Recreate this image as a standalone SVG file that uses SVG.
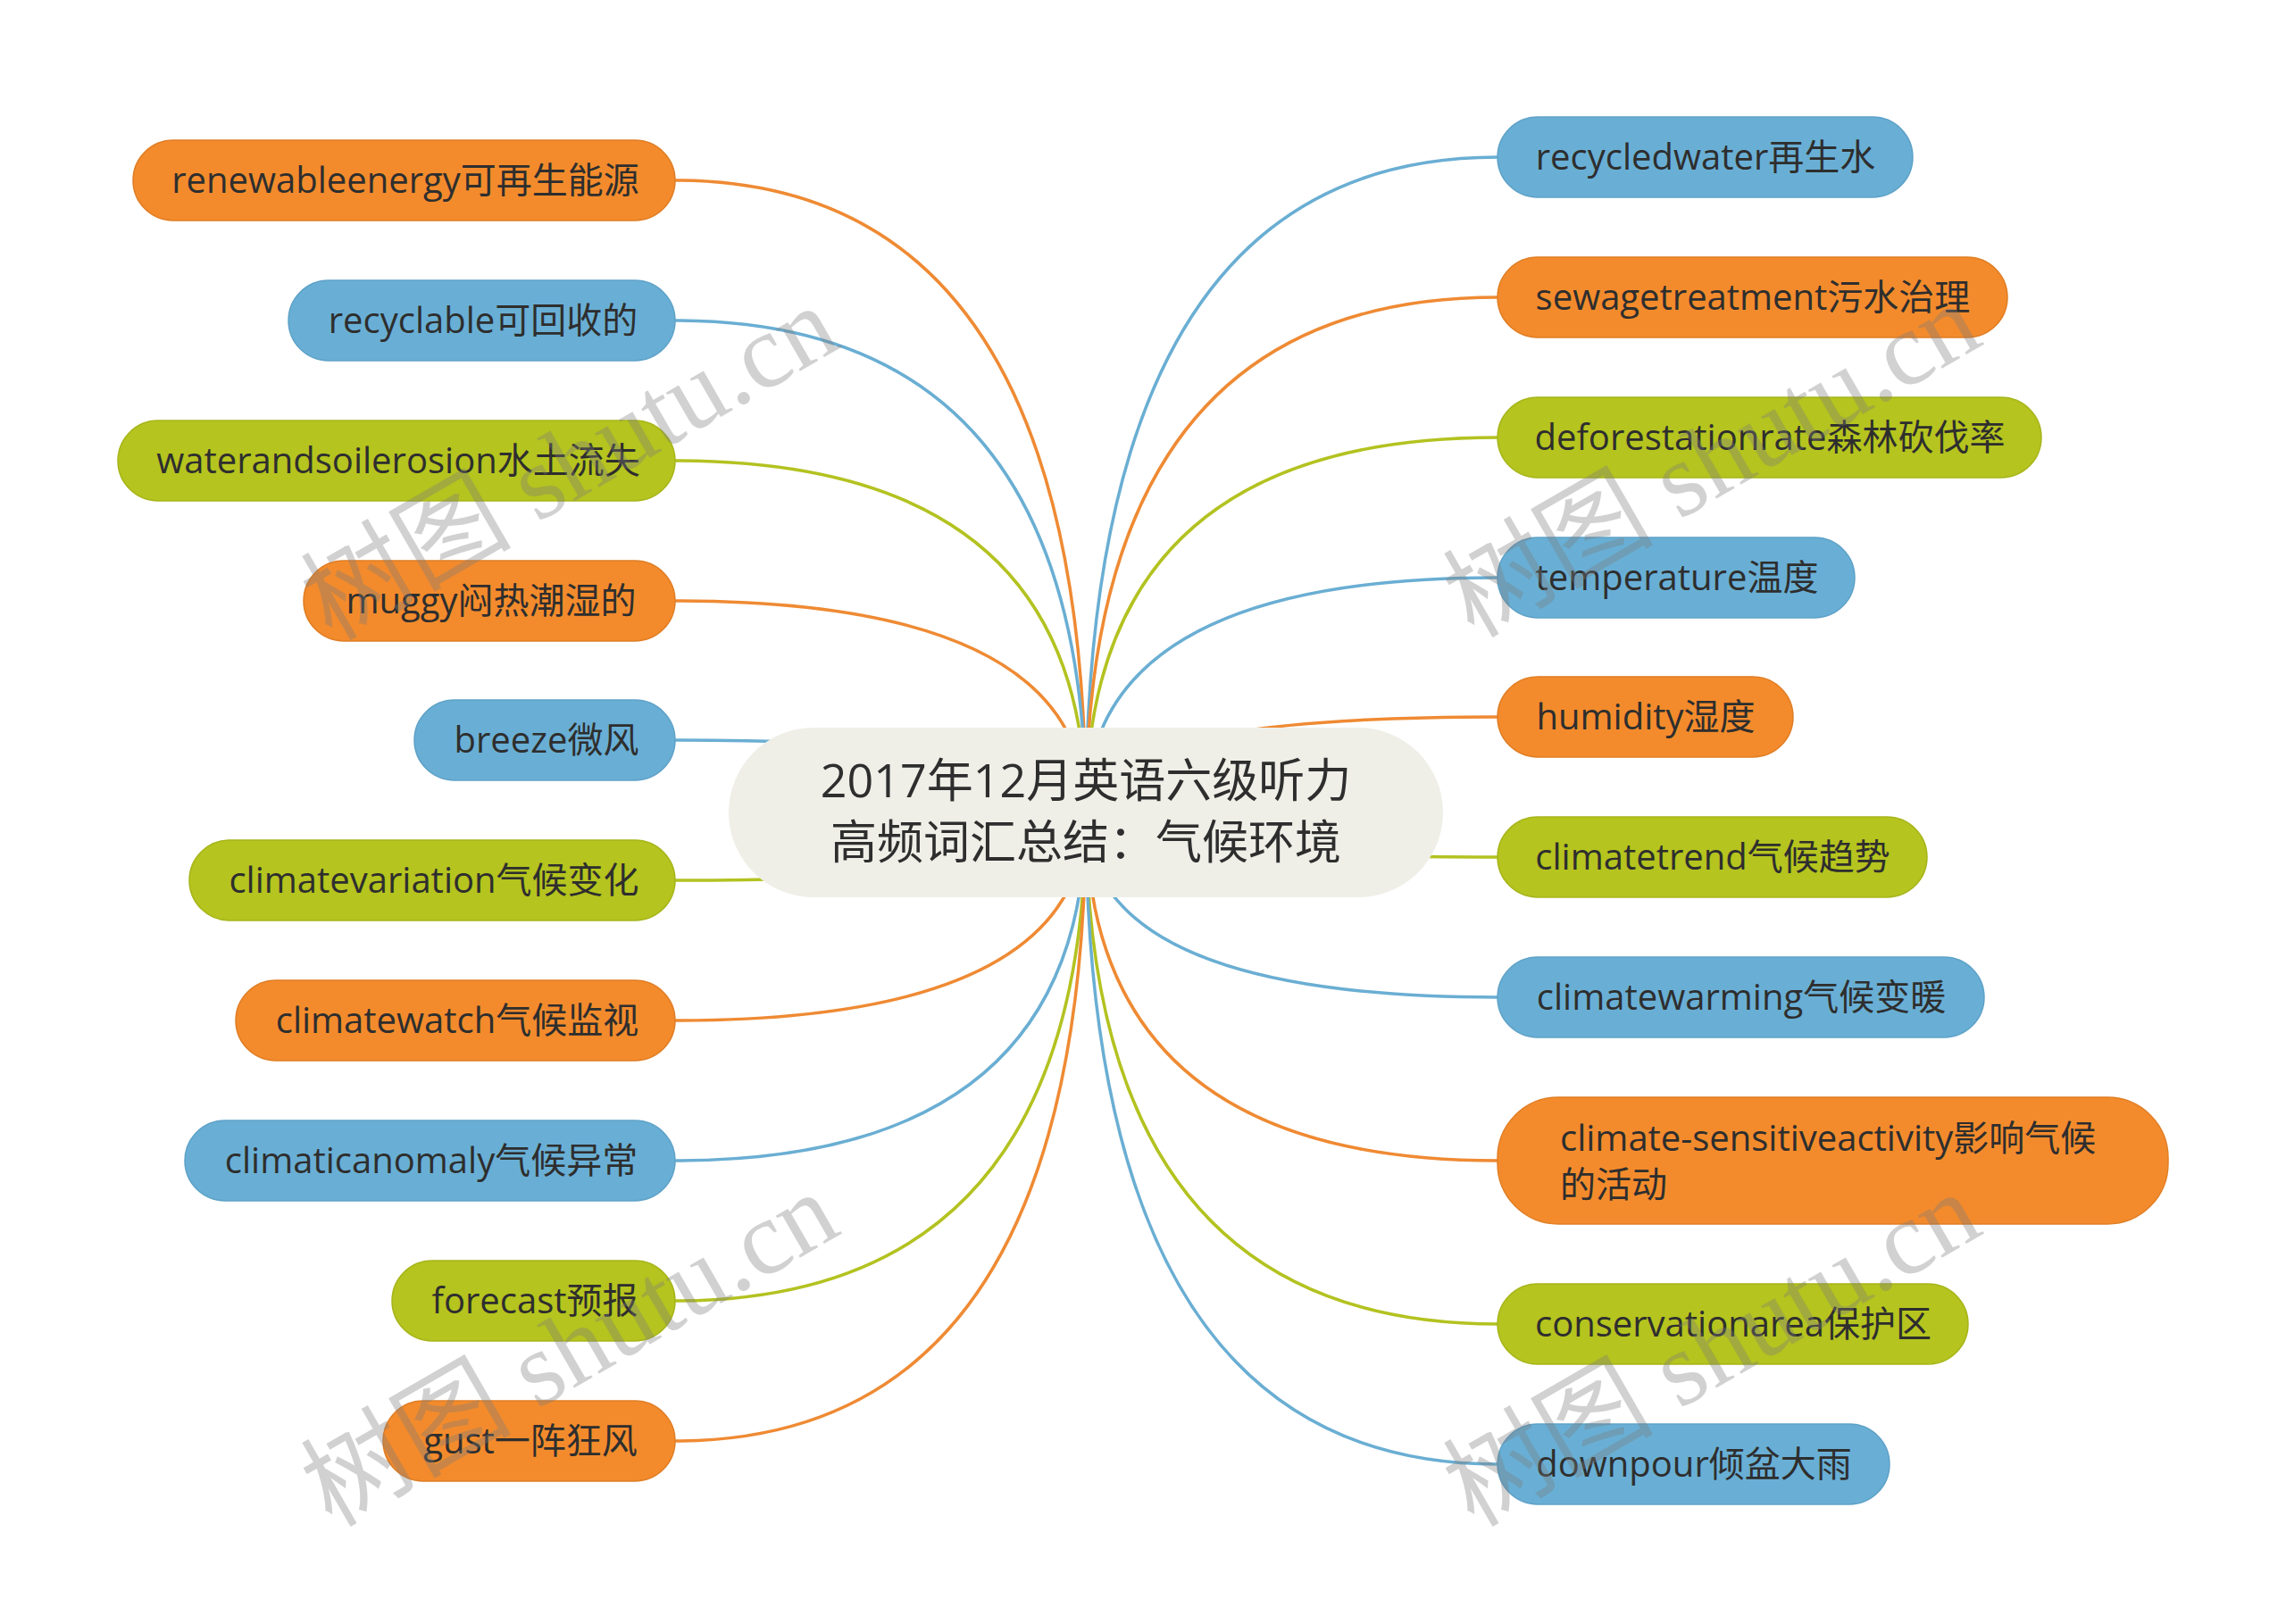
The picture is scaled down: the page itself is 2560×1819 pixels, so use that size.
<svg xmlns="http://www.w3.org/2000/svg" width="2560" height="1819" viewBox="0 0 2560 1819">
<style>
.bg{fill:#ffffff}
.edge{fill:none;stroke-width:3.5;stroke-linecap:round}
.eo{stroke:#ef8a33}
.eb{stroke:#6aaed3}
.eg{stroke:#b3c220}
.no{fill:#f38b2c;stroke:#e07e25;stroke-width:1.5}
.nb{fill:#69afd5;stroke:#5fa2c8;stroke-width:1.5}
.ng{fill:#b5c41e;stroke:#a7b51a;stroke-width:1.5}
.root{fill:#efefe8}
.t{font-family:"Open Sans","Noto Sans CJK SC",sans-serif;font-size:40px;fill:#2e2e2e;text-anchor:middle}
.tl{text-anchor:start}
.rt{font-family:"Open Sans","Noto Sans CJK SC",sans-serif;font-size:52px;fill:#2e2e2e;text-anchor:middle}
.wm{font-family:"Liberation Serif","Noto Sans CJK SC",serif;font-size:118px;fill:#7a7a7a;fill-opacity:0.35;text-anchor:middle}
</style>
<rect class="bg" x="0" y="0" width="2560" height="1819"/>
<g id="connectors">
<path class="edge eo" d="M756 202 Q1216 202 1216 910"/>
<path class="edge eb" d="M756 359 Q1216 359 1216 910"/>
<path class="edge eg" d="M756 516 Q1216 516 1216 910"/>
<path class="edge eo" d="M756 673 Q1216 673 1216 910"/>
<path class="edge eb" d="M756 829 Q1216 829 1216 910"/>
<path class="edge eg" d="M756 986 Q1216 986 1216 910"/>
<path class="edge eo" d="M756 1143 Q1216 1143 1216 910"/>
<path class="edge eb" d="M756 1300 Q1216 1300 1216 910"/>
<path class="edge eg" d="M756 1457 Q1216 1457 1216 910"/>
<path class="edge eo" d="M756 1614 Q1216 1614 1216 910"/>
<path class="edge eb" d="M1677 176 Q1216 176 1216 910"/>
<path class="edge eo" d="M1677 333 Q1216 333 1216 910"/>
<path class="edge eg" d="M1677 490 Q1216 490 1216 910"/>
<path class="edge eb" d="M1677 647 Q1216 647 1216 910"/>
<path class="edge eo" d="M1677 803 Q1216 803 1216 910"/>
<path class="edge eg" d="M1677 960 Q1216 960 1216 910"/>
<path class="edge eb" d="M1677 1117 Q1216 1117 1216 910"/>
<path class="edge eo" d="M1677 1300 Q1216 1300 1216 910"/>
<path class="edge eg" d="M1677 1483 Q1216 1483 1216 910"/>
<path class="edge eb" d="M1677 1640 Q1216 1640 1216 910"/>
</g>
<g id="root">
<rect class="root" x="816" y="815" width="800" height="190" rx="95" ry="95"/>
<text class="rt" x="1216" y="893">2017年12月英语六级听力</text>
<text class="rt" x="1216" y="962">高频词汇总结：气候环境</text>
</g>
<g id="n-l1"><rect class="no" x="149" y="157" width="607" height="90" rx="45"/><text class="t" x="454" y="216">renewableenergy可再生能源</text></g>
<g id="n-l2"><rect class="nb" x="323" y="314" width="433" height="90" rx="45"/><text class="t" x="541" y="373">recyclable可回收的</text></g>
<g id="n-l3"><rect class="ng" x="132" y="471" width="624" height="90" rx="45"/><text class="t" x="446" y="530">waterandsoilerosion水土流失</text></g>
<g id="n-l4"><rect class="no" x="340" y="628" width="416" height="90" rx="45"/><text class="t" x="550" y="687">muggy闷热潮湿的</text></g>
<g id="n-l5"><rect class="nb" x="464" y="784" width="292" height="90" rx="45"/><text class="t" x="612" y="843">breeze微风</text></g>
<g id="n-l6"><rect class="ng" x="212" y="941" width="544" height="90" rx="45"/><text class="t" x="486" y="1000">climatevariation气候变化</text></g>
<g id="n-l7"><rect class="no" x="264" y="1098" width="492" height="90" rx="45"/><text class="t" x="512" y="1157">climatewatch气候监视</text></g>
<g id="n-l8"><rect class="nb" x="207" y="1255" width="549" height="90" rx="45"/><text class="t" x="483" y="1314">climaticanomaly气候异常</text></g>
<g id="n-l9"><rect class="ng" x="439" y="1412" width="317" height="90" rx="45"/><text class="t" x="599" y="1471">forecast预报</text></g>
<g id="n-l10"><rect class="no" x="429" y="1569" width="327" height="90" rx="45"/><text class="t" x="594" y="1628">gust一阵狂风</text></g>
<g id="n-r1"><rect class="nb" x="1677" y="131" width="465" height="90" rx="45"/><text class="t" x="1910" y="190">recycledwater再生水</text></g>
<g id="n-r2"><rect class="no" x="1677" y="288" width="571" height="90" rx="45"/><text class="t" x="1963" y="347">sewagetreatment污水治理</text></g>
<g id="n-r3"><rect class="ng" x="1677" y="445" width="609" height="90" rx="45"/><text class="t" x="1982" y="504">deforestationrate森林砍伐率</text></g>
<g id="n-r4"><rect class="nb" x="1677" y="602" width="400" height="90" rx="45"/><text class="t" x="1878" y="661">temperature温度</text></g>
<g id="n-r5"><rect class="no" x="1677" y="758" width="331" height="90" rx="45"/><text class="t" x="1843" y="817">humidity湿度</text></g>
<g id="n-r6"><rect class="ng" x="1677" y="915" width="481" height="90" rx="45"/><text class="t" x="1918" y="974">climatetrend气候趋势</text></g>
<g id="n-r7"><rect class="nb" x="1677" y="1072" width="545" height="90" rx="45"/><text class="t" x="1950" y="1131">climatewarming气候变暖</text></g>
<g id="n-r8"><rect class="no" x="1677" y="1229" width="751" height="142" rx="68"/><text class="t tl" x="1747" y="1289">climate-sensitiveactivity影响气候</text><text class="t tl" x="1747" y="1341">的活动</text></g>
<g id="n-r9"><rect class="ng" x="1677" y="1438" width="527" height="90" rx="45"/><text class="t" x="1941" y="1497">conservationarea保护区</text></g>
<g id="n-r10"><rect class="nb" x="1677" y="1595" width="439" height="90" rx="45"/><text class="t" x="1897" y="1654">downpour倾盆大雨</text></g>
<g id="watermarks">
<text class="wm" transform="translate(658 553) rotate(-30)">树图 shutu.cn</text>
<text class="wm" transform="translate(1937 550) rotate(-30)">树图 shutu.cn</text>
<text class="wm" transform="translate(658 1546) rotate(-30)">树图 shutu.cn</text>
<text class="wm" transform="translate(1937 1546) rotate(-30)">树图 shutu.cn</text>
</g>
</svg>
